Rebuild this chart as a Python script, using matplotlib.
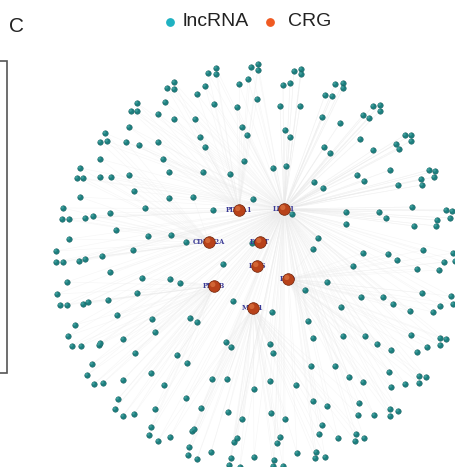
import numpy as np
import matplotlib
matplotlib.use("Agg")
import matplotlib.pyplot as plt
from matplotlib.collections import LineCollection

# ── data (layout positions, pixel units) ─────────────────────────────────────
crg_names = ["PDHA1", "LIPT1", "CDKN2A", "DLAT", "LIAS", "DLD", "PDHB", "MTF1"]
crg_x = [239, 284, 209, 260, 257, 288, 214, 253]
crg_y = [210, 209, 242, 242, 266, 279, 286, 308]

lnc_pts = [
    # upper left
    (216, 68), (216, 74), (208, 73), (174, 82), (174, 89), (167, 88), (205, 86), (239, 84),
    (197, 94), (137, 103), (137, 111), (131, 111), (165, 102), (214, 104), (237, 107), (158, 114),
    (174, 119), (195, 119), (129, 127), (105, 133), (100, 142), (107, 141), (126, 142), (139, 145),
    (158, 142), (200, 137), (205, 147), (100, 159), (163, 159), (80, 168), (77, 178), (83, 178),
    (100, 177), (111, 177), (129, 175), (169, 172), (203, 172), (230, 174), (134, 191), (80, 197),
    (169, 198), (193, 197), (63, 208), (62, 219), (69, 219), (85, 218), (93, 216), (110, 213),
    (145, 208), (213, 210), (116, 230), (69, 239), (148, 236), (171, 235),
    # upper right
    (251, 67), (258, 64), (258, 70), (294, 71), (301, 69), (301, 74), (248, 79), (283, 85),
    (290, 83), (335, 84), (343, 83), (343, 88), (257, 99), (280, 106), (300, 106), (325, 95),
    (332, 96), (373, 106), (380, 105), (380, 111), (322, 117), (363, 115), (369, 118), (340, 123),
    (242, 127), (247, 135), (285, 130), (290, 137), (360, 139), (405, 135), (411, 135), (411, 141),
    (396, 144), (399, 149), (324, 147), (330, 153), (373, 150), (244, 161), (273, 168), (286, 166),
    (357, 175), (364, 181), (390, 170), (429, 170), (435, 171), (434, 177), (421, 179), (422, 185),
    (398, 185), (314, 182), (323, 188), (253, 199), (292, 214), (346, 212), (346, 224), (379, 212),
    (386, 218), (412, 207), (446, 210), (452, 211), (450, 218), (437, 220), (414, 226), (436, 226),
    (318, 238),
    # lower left
    (56, 251), (56, 262), (63, 262), (79, 261), (85, 259), (102, 256), (133, 250), (186, 242),
    (110, 272), (67, 282), (142, 278), (170, 279), (180, 283), (223, 264), (57, 294), (60, 305),
    (67, 305), (83, 304), (88, 302), (108, 300), (137, 293), (233, 301), (117, 315), (75, 325),
    (152, 319), (190, 318), (197, 322), (68, 336), (155, 332), (72, 346), (81, 346), (99, 345),
    (100, 343), (123, 339), (135, 353), (177, 355), (187, 363), (226, 342), (231, 347), (92, 364),
    (87, 375), (94, 384), (103, 383), (123, 380), (151, 373), (164, 385), (212, 379), (227, 379),
    (118, 399), (115, 409), (123, 416), (134, 414), (155, 409), (186, 398), (201, 408), (228, 412),
    (151, 427), (149, 435), (158, 441), (170, 437), (192, 431), (194, 429), (189, 447), (188, 455),
    (197, 459), (211, 452), (234, 442), (237, 438), (231, 458), (229, 465),
    # lower right
    (252, 243), (313, 249), (363, 253), (388, 254), (397, 260), (423, 250), (453, 253), (444, 262),
    (455, 261), (353, 266), (417, 269), (439, 270), (327, 282), (305, 290), (272, 312), (341, 307),
    (361, 297), (383, 297), (393, 304), (410, 311), (422, 293), (433, 312), (440, 306), (451, 296),
    (453, 304), (308, 321), (313, 338), (343, 336), (365, 336), (377, 344), (391, 350), (411, 335),
    (417, 352), (427, 347), (440, 338), (446, 339), (440, 345), (270, 344), (273, 353), (311, 366),
    (335, 366), (349, 377), (363, 382), (389, 372), (391, 387), (405, 384), (419, 376), (426, 377),
    (419, 383), (270, 381), (254, 389), (296, 385), (313, 401), (327, 406), (359, 403), (358, 415),
    (374, 415), (390, 409), (390, 416), (398, 411), (242, 419), (271, 413), (285, 419), (322, 425),
    (319, 434), (338, 438), (356, 434), (355, 441), (364, 438), (280, 437), (277, 443), (297, 453),
    (316, 452), (315, 458), (325, 457), (254, 457), (274, 460), (283, 466), (273, 466), (240, 467),
]
lnc_x = [p[0] for p in lnc_pts]
lnc_y = [p[1] for p in lnc_pts]

LNC_COL = "#1d7e7e"
CRG_COL = "#b8421a"

# ── figure ───────────────────────────────────────────────────────────────────
fig = plt.figure(figsize=(4.56, 4.67), dpi=100)
ax = fig.add_axes([0, 0, 1, 1])
ax.set_xlim(0, 456)
ax.set_ylim(467, 0)
ax.axis("off")

# edges: every lncRNA to its nearest CRG and to the LIPT1 hub
lx, ly = np.array(lnc_x, float), np.array(lnc_y, float)
cx, cy = np.array(crg_x, float), np.array(crg_y, float)
d = (lx[:, None] - cx[None, :]) ** 2 + (ly[:, None] - cy[None, :]) ** 2
near = d.argmin(axis=1)
segs = []
for i in range(len(lx)):
    segs.append([(lx[i], ly[i]), (cx[near[i]], cy[near[i]])])
    segs.append([(lx[i], ly[i]), (cx[1], cy[1])])
ax.add_collection(LineCollection(segs, colors="#ebebeb", linewidths=0.4,
                                 alpha=0.45, zorder=1))

# lncRNA nodes
ax.scatter(lx, ly, s=16, color=LNC_COL, edgecolors="#135656", linewidths=0.3, zorder=3)
ax.scatter(lx - 0.6, ly - 0.6, s=4, color="#4aaaa7", edgecolors="none", alpha=0.7, zorder=3.1)

# CRG labels (under the nodes) and nodes
for n, x, y in zip(crg_names, crg_x, crg_y):
    ax.text(x, y, n, fontsize=4.8, family="DejaVu Serif", fontweight="bold",
            color="#3a3a96", ha="center", va="center", zorder=4)
ax.scatter(cx, cy, s=70, color=CRG_COL, edgecolors="#6e2207", linewidths=0.5, zorder=5)
ax.scatter(cx - 1.2, cy - 1.5, s=14, color="#d9703c", edgecolors="none", alpha=0.8, zorder=5.1)

# legend
ax.scatter([170], [22], s=28, color="#1fb2c2", zorder=6)
ax.text(183, 22, "lncRNA", fontsize=14, family="Liberation Sans", color="#222222",
        ha="left", va="center")
ax.scatter([270], [22], s=28, color="#f05a22", zorder=6)
ax.text(288, 22, "CRG", fontsize=14, family="Liberation Sans", color="#222222",
        ha="left", va="center")

# panel letter
ax.text(9, 27, "C", fontsize=15, family="Liberation Sans", color="#222222",
        ha="left", va="center")

# edge of neighbouring panel frame
ax.plot([0, 7, 7, 0], [61, 61, 373, 373], color="#555555", lw=1.2,
        solid_joinstyle="miter", clip_on=False)

fig.savefig("out.png", dpi=100)
